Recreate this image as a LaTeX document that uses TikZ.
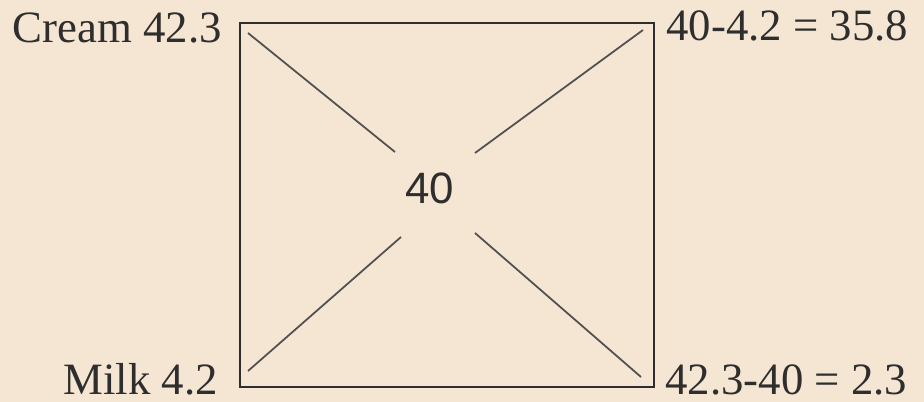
\documentclass[tikz,border=0pt]{standalone}
\usepackage{fontspec}
\setmainfont{Liberation Serif}
\newfontfamily\sansnum{Liberation Sans}
\usepackage{tikz}
\usetikzlibrary{positioning,calc}
\definecolor{PaperCream}{HTML}{F5E5D3}
\definecolor{InkDark}{HTML}{2E2E2E}
\definecolor{InkGray}{HTML}{505050}

\tikzset{
  lbl/.style={inner sep=0pt, text depth=0pt, font=\fontsize{25.5}{30}\selectfont, text=InkDark},
  diag/.style={InkGray, line width=1pt}
}

\begin{document}
\begin{tikzpicture}[x=0.02cm, y=-0.02cm]
% Background
\fill[PaperCream] (0,0) rectangle (924,402);
\useasboundingbox (0,0) rectangle (924,402);

% Square
\node[draw=InkDark, line width=1.2pt, minimum width=8.28cm, minimum height=7.28cm, inner sep=0pt] (sq) at (447,205) {};

% Center value
\node[lbl, font=\fontsize{25}{30}\selectfont\sansnum] (mid) at (430,188) {40};

% Diagonal ends
\coordinate (tl) at (248,33);   \coordinate (tlc) at (395,152);
\coordinate (tr) at (643,30);   \coordinate (trc) at (475,153);
\coordinate (bl) at (248,371);  \coordinate (blc) at (401,237);
\coordinate (br) at (641,377);  \coordinate (brc) at (475,233);

\foreach \a/\b in {tl/tlc, tr/trc, bl/blc, br/brc}
{
  \draw[diag] (\a) -- (\b);
}

% Corner labels
\node[lbl, anchor=base east] (cream) at (222,43) {Cream 42.3};
\node[lbl, anchor=base west] (diffa) at (666,41) {40-4.2 = 35.8};
\node[lbl, anchor=base east] (milk) at (218,394) {Milk 4.2};
\node[lbl, anchor=base west] (diffb) at (665,394) {42.3-40 = 2.3};
\end{tikzpicture}
\end{document}
